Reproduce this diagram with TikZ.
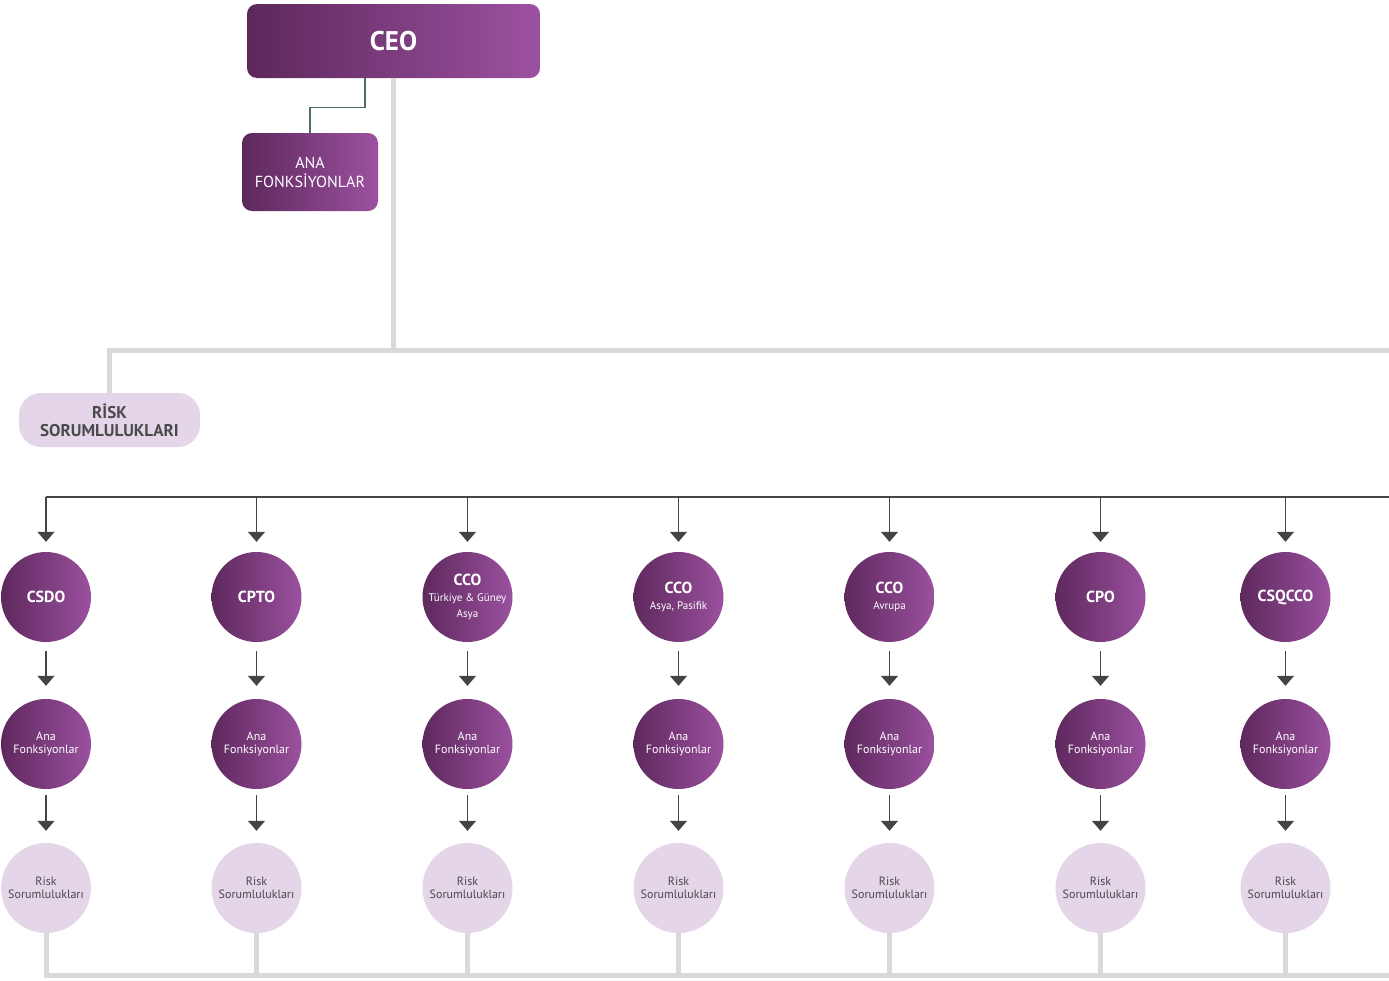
\documentclass[tikz,border=0pt]{standalone}
\usepackage{fontspec}
\setmainfont{PT Sans}
\usetikzlibrary{arrows.meta}
\definecolor{pdark}{HTML}{5C275B}
\definecolor{plight}{HTML}{9D52A1}
\definecolor{lav}{HTML}{E4D5E8}
\definecolor{gline}{HTML}{D9D9D9}
\definecolor{aline}{HTML}{444444}
\definecolor{tline}{HTML}{4F6B6B}
\definecolor{txt}{HTML}{4A4A4A}
\newcommand{\subline}[1]{{\mdseries\fontsize{11}{13}\selectfont #1}}
\tikzset{
  gradfill/.style={path picture={\shade[left color=pdark, right color=plight]
      ([xshift=-3pt,yshift=-3pt]path picture bounding box.south west) rectangle
      ([xshift=3pt,yshift=3pt]path picture bounding box.north east);}},
  pbox/.style={rounded corners=10pt, gradfill, text=white, align=center, inner sep=0pt},
  pcirc/.style={circle, minimum size=90pt, inner sep=0pt, gradfill, text=white, align=center},
  lcirc/.style={circle, minimum size=90pt, inner sep=0pt, fill=lav, text=txt, align=center},
  gl/.style={line width=5pt, draw=gline},
  tl/.style={line width=1.3pt, draw=tline},
  al/.style={line width=1.4pt, draw=aline},
  arr/.style={line width=1.4pt, draw=aline, -{Triangle[width=17pt,length=10pt]}},
  bigf/.style={font=\bfseries\fontsize{16}{16}\selectfont},
  smf/.style={font=\fontsize{12}{13}\selectfont},
}
\begin{document}
\begin{tikzpicture}[x=1pt,y=-1pt]
\useasboundingbox (0,0) rectangle (1389,980);
% top boxes
\node[pbox, minimum width=293pt, minimum height=74pt, font=\bfseries\fontsize{27}{30}\selectfont] (ceo) at (393.5,41) {CEO};
\node[pbox, minimum width=136pt, minimum height=78pt, font=\fontsize{16}{19}\selectfont] (ana) at (310,172) {ANA\\FONKSİYONLAR};
\node[rounded corners=22pt, fill=lav, text=txt, align=center, minimum width=181pt, minimum height=54pt, inner sep=0pt, font=\bfseries\fontsize{17}{18}\selectfont] (risk) at (109.5,420) {RİSK\\SORUMLULUKLARI};
% coordinates
\coordinate (j) at (393.5,350);
\coordinate (jr) at (1389,350);
\coordinate (jl) at (109.5,350);
\coordinate (hr) at (1389,497);
\coordinate (br) at (1389,975);
% connectors top
\draw[tl] ([xshift=-28.5pt]ceo.south) -- ++(0,29) -| (ana.north);
\draw[gl] (ceo.south) -- (j);
\draw[gl] (jr) -- (jl) -- (risk.north);
% row 1
\node[pcirc, bigf] (c1) at (46,597) {CSDO};
\node[pcirc, bigf] (c2) at (256.5,597) {CPTO};
\node[pcirc, bigf] (c3) at (467.5,597) {CCO\\\subline{Türkiye \& Güney}\\\subline{Asya}};
\node[pcirc, bigf] (c4) at (678.5,597) {CCO\\\subline{Asya, Pasifik}};
\node[pcirc, bigf] (c5) at (889.5,597) {CCO\\\subline{Avrupa}};
\node[pcirc, bigf] (c6) at (1100.5,597) {CPO};
\node[pcirc, bigf] (c7) at (1285.5,597) {CSQCCO};
% rows 2 and 3
\foreach \i in {1,...,7}{
  \node[pcirc, smf] (a\i) at (c\i |- 0,744) {Ana\\Fonksiyonlar};
  \node[lcirc, smf] (r\i) at (c\i |- 0,888) {Risk\\Sorumlulukları};
}
% arrows
\draw[al] (hr) -- (c1 |- hr);
\foreach \i in {1,...,7}{
  \draw[arr, shorten >=10pt] (c\i |- hr) -- (c\i);
  \draw[arr, shorten <=9pt, shorten >=13pt] (c\i) -- (a\i);
  \draw[arr, shorten <=6pt, shorten >=12pt] (a\i) -- (r\i);
}
% bottom grey line
\draw[gl] (r1) |- (br);
\foreach \i in {2,...,7}{
  \draw[gl] (r\i) -- (r\i |- br);
}
\end{tikzpicture}
\end{document}
